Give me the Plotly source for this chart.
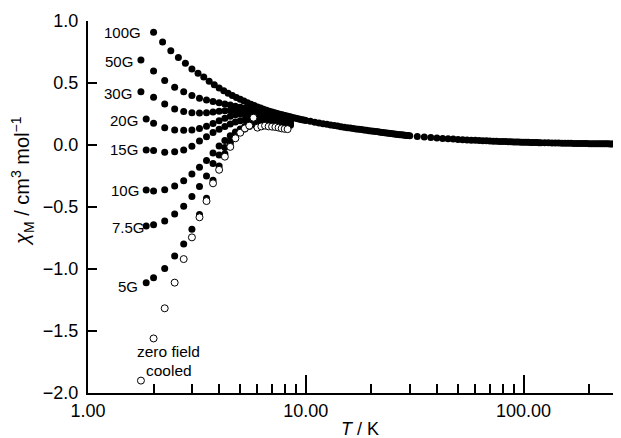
import plotly.graph_objects as go
import math

# ---------------- data ----------------
T_fc = [1.85, 2.0, 2.25, 2.5, 2.75, 3.0, 3.25, 3.5, 3.75, 4.0, 4.25, 4.5, 4.75, 5.0,
        5.25, 5.5, 5.75, 6.0, 6.25, 6.5, 6.75, 7.0, 7.25, 7.5, 7.75, 8.0, 8.25, 8.5]
T_fc_b = [1.75, 2.0, 2.25, 2.5, 2.75, 3.0, 3.25, 3.5, 3.75, 4.0, 4.25, 4.5, 4.75, 5.0,
          5.25, 5.5, 5.75, 6.0, 6.25, 6.5, 6.75, 7.0, 7.25, 7.5, 7.75, 8.0, 8.25, 8.5]

chi_5G = [-1.11, -1.07, -0.995, -0.895, -0.798, -0.68, -0.56, -0.43, -0.285, -0.17, -0.07, 0.01,
          0.075, 0.115, 0.145, 0.162, 0.17, 0.172, 0.173, 0.173, 0.172, 0.171, 0.169, 0.167,
          0.165, 0.163, 0.161, 0.159]
chi_7_5G = [-0.653, -0.643, -0.613, -0.557, -0.494, -0.415, -0.335, -0.25, -0.15, -0.08, -0.02,
            0.03, 0.072, 0.105, 0.13, 0.15, 0.163, 0.172, 0.177, 0.179, 0.18, 0.18, 0.179,
            0.177, 0.175, 0.173, 0.171, 0.168]
chi_10G = [-0.363, -0.37, -0.36, -0.33, -0.288, -0.234, -0.18, -0.124, -0.064, -0.008, 0.037,
           0.075, 0.105, 0.13, 0.15, 0.165, 0.175, 0.182, 0.186, 0.188, 0.188, 0.187, 0.185,
           0.183, 0.181, 0.178, 0.176, 0.173]
chi_15G = [-0.04, -0.045, -0.058, -0.054, -0.04, -0.01, 0.033, 0.067, 0.1, 0.128, 0.15, 0.17,
           0.185, 0.196, 0.204, 0.21, 0.213, 0.214, 0.214, 0.213, 0.211, 0.208, 0.205, 0.202,
           0.199, 0.196, 0.193, 0.19]
chi_20G = [0.21, 0.175, 0.14, 0.121, 0.118, 0.12, 0.133, 0.152, 0.173, 0.195, 0.215, 0.232,
           0.243, 0.25, 0.253, 0.254, 0.253, 0.251, 0.248, 0.244, 0.24, 0.236, 0.232, 0.228,
           0.224, 0.22, 0.216, 0.212]
chi_30G = [0.43, 0.385, 0.33, 0.29, 0.27, 0.26, 0.258, 0.26, 0.266, 0.272, 0.276, 0.278, 0.278,
           0.276, 0.273, 0.27, 0.266, 0.262, 0.258, 0.253, 0.249, 0.244, 0.24, 0.235, 0.231,
           0.227, 0.223, 0.219]
chi_50G = [0.685, 0.597, 0.52, 0.465, 0.43, 0.40, 0.377, 0.362, 0.35, 0.34, 0.331, 0.322, 0.313,
           0.305, 0.297, 0.29, 0.283, 0.276, 0.27, 0.264, 0.258, 0.253, 0.248, 0.243, 0.238,
           0.233, 0.229, 0.225]

T_100G = [2.0, 2.2, 2.4, 2.6, 2.8, 3.0, 3.2, 3.4, 3.6, 3.8, 4.0, 4.2, 4.4, 4.6, 4.8, 5.0,
          5.2, 5.4, 5.6, 5.8, 6.0, 6.2, 6.4, 6.6, 6.8, 7.0, 7.2, 7.4, 7.6, 7.8, 8.0, 8.2,
          8.4, 8.6, 8.8, 9.0, 9.2, 9.4, 9.6, 9.8, 10.0,
          10.5, 11, 11.5, 12, 12.5, 13, 13.5, 14, 14.5, 15, 15.5, 16, 16.5, 17, 17.5, 18,
          18.5, 19, 19.5, 20, 20.5, 21, 21.5, 22, 22.5, 23, 23.5, 24, 24.5, 25, 25.5, 26,
          26.5, 27, 27.5, 28, 28.5, 29, 29.5, 30,
          32.5, 35, 37.5, 40, 42.5, 45, 47.5, 50, 52.5, 55, 57.5, 60, 62.5, 65, 67.5, 70,
          72.5, 75, 77.5, 80, 82.5, 85, 87.5, 90, 92.5, 95, 97.5, 100, 102.5, 105, 107.5,
          110, 112.5, 115, 117.5, 120,
          125, 130, 135, 140, 145, 150, 155, 160, 165, 170, 175, 180, 185, 190, 195, 200,
          205, 210, 215, 220, 225, 230, 235, 240, 245, 250, 255, 260, 265]
chi_100G = [0.91, 0.83, 0.76, 0.705, 0.66, 0.613, 0.578, 0.548, 0.515, 0.485, 0.46, 0.438,
            0.418, 0.40, 0.383, 0.368, 0.354, 0.341, 0.329, 0.318, 0.307, 0.298, 0.289, 0.281,
            0.273, 0.266, 0.26, 0.254, 0.248, 0.243, 0.238, 0.233, 0.228, 0.224, 0.22, 0.216,
            0.212, 0.208, 0.204, 0.201, 0.198,
            0.191, 0.184, 0.178, 0.172, 0.167, 0.162, 0.157, 0.153, 0.148, 0.144, 0.140, 0.137,
            0.133, 0.130, 0.127, 0.124, 0.121, 0.118, 0.115, 0.113, 0.110, 0.108, 0.106, 0.103,
            0.101, 0.099, 0.097, 0.094, 0.092, 0.090, 0.088, 0.086, 0.085, 0.083, 0.082, 0.080,
            0.079, 0.077, 0.076, 0.074,
            0.069, 0.064, 0.060, 0.056, 0.053, 0.050, 0.048, 0.045, 0.043, 0.041, 0.039, 0.038,
            0.036, 0.035, 0.034, 0.032, 0.031, 0.030, 0.029, 0.028, 0.028, 0.027, 0.026, 0.025,
            0.025, 0.024, 0.023, 0.023, 0.022, 0.022, 0.021, 0.021, 0.020, 0.020, 0.019, 0.019,
            0.018, 0.018, 0.017, 0.016, 0.016, 0.015, 0.015, 0.014, 0.014, 0.013, 0.013, 0.013,
            0.012, 0.012, 0.012, 0.011, 0.011, 0.011, 0.010, 0.010, 0.010, 0.010, 0.0095,
            0.0093, 0.0091, 0.009, 0.0088, 0.0086, 0.0085]

T_zfc = [1.75, 2.0, 2.25, 2.5, 2.75, 3.0, 3.25, 3.5, 3.75, 4.0, 4.25, 4.5, 4.75, 5.0, 5.25,
         5.5, 5.75, 6.0, 6.25, 6.5, 6.75, 7.0, 7.25, 7.5, 7.75, 8.0, 8.25]
chi_zfc = [-1.90, -1.56, -1.317, -1.11, -0.92, -0.745, -0.583, -0.452, -0.309, -0.20, -0.094,
           -0.015, 0.054, 0.099, 0.134, 0.156, 0.22, 0.14, 0.15, 0.156, 0.15, 0.148, 0.145,
           0.14, 0.134, 0.13, 0.128]

x_tickvals = [1, 10, 100]
x_ticktext = ["1.00", "10.00", "100.00"]
x_minor = [2, 3, 4, 5, 6, 7, 8, 9, 20, 30, 40, 50, 60, 70, 80, 90, 200]
y_tickvals = [-2.0, -1.5, -1.0, -0.5, 0.0, 0.5, 1.0]

field_labels = ["100G", "50G", "30G", "20G", "15G", "10G", "7.5G", "5G"]
label_T = [1.79, 1.64, 1.62, 1.73, 1.73, 1.76, 1.87, 1.73]
label_chi = [0.911, 0.677, 0.419, 0.194, -0.04, -0.363, -0.669, -1.145]

# ---------------- figure ----------------
FONT = "Liberation Sans, Arial, sans-serif"
fig = go.Figure()

closed = dict(symbol="circle", size=7, color="black", line=dict(width=0))
series = [(T_fc, chi_5G), (T_fc, chi_7_5G), (T_fc, chi_10G), (T_fc, chi_15G),
          (T_fc, chi_20G), (T_fc_b, chi_30G), (T_fc_b, chi_50G), (T_100G, chi_100G)]
for tx, cy in series:
    fig.add_trace(go.Scatter(x=tx, y=cy, mode="markers", marker=closed,
                             hoverinfo="skip", cliponaxis=False))

fig.add_trace(go.Scatter(x=T_zfc, y=chi_zfc, mode="markers",
                         marker=dict(symbol="circle", size=7, color="white",
                                     line=dict(width=1, color="black")),
                         hoverinfo="skip", cliponaxis=False))

for name, lt, lc in zip(field_labels, label_T, label_chi):
    fig.add_annotation(x=math.log10(lt), y=lc, xref="x", yref="y", text=name,
                       showarrow=False, xanchor="right", yanchor="middle",
                       font=dict(size=15, family=FONT, color="black"))

for txt, lc in (("zero field", -1.669), ("cooled", -1.815)):
    fig.add_annotation(x=math.log10(2.35), y=lc, xref="x", yref="y", text=txt,
                       showarrow=False, xanchor="center", yanchor="middle",
                       font=dict(size=15.5, family=FONT, color="black"))

# axis titles
fig.add_annotation(xref="paper", yref="paper", x=0.51, y=-0.0968,
                   text="<i>T</i> / K", showarrow=False,
                   xanchor="center", yanchor="middle",
                   font=dict(size=18, family=FONT, color="black"))
fig.add_annotation(xref="paper", yref="paper", x=-0.122, y=0.57,
                   text="<i>χ</i><sub>M</sub> / cm<sup>3</sup> mol<sup>−1</sup>",
                   textangle=-90, showarrow=False, borderpad=0,
                   xanchor="center", yanchor="middle",
                   font=dict(size=20, family=FONT, color="black"))

fig.update_layout(
    width=613, height=430,
    margin=dict(l=80, r=0, t=13, b=45),
    paper_bgcolor="white", plot_bgcolor="white",
    showlegend=False,
    font=dict(family=FONT, color="black", size=18),
)
fig.update_xaxes(
    type="log", range=[0, math.log10(280)],
    tickmode="array", tickvals=x_tickvals, ticktext=x_ticktext,
    ticks="inside", ticklen=18, tickwidth=1.5, tickcolor="black",
    showline=True, linewidth=2, linecolor="black",
    showgrid=False, zeroline=False,
    minor=dict(ticks="inside", ticklen=9, tickwidth=1.5, tickcolor="black",
               tickmode="array", tickvals=x_minor, showgrid=False),
    tickfont=dict(size=18, family=FONT, color="black"),
)
fig.update_yaxes(
    range=[-2, 1],
    tickmode="array", tickvals=y_tickvals, tickformat=".1f",
    ticks="inside", ticklen=9, tickwidth=1.5, tickcolor="black",
    showline=True, linewidth=2, linecolor="black",
    showgrid=False, zeroline=False, ticklabelstandoff=4,
    tickfont=dict(size=18, family=FONT, color="black"),
)

fig.write_html("out.html")
